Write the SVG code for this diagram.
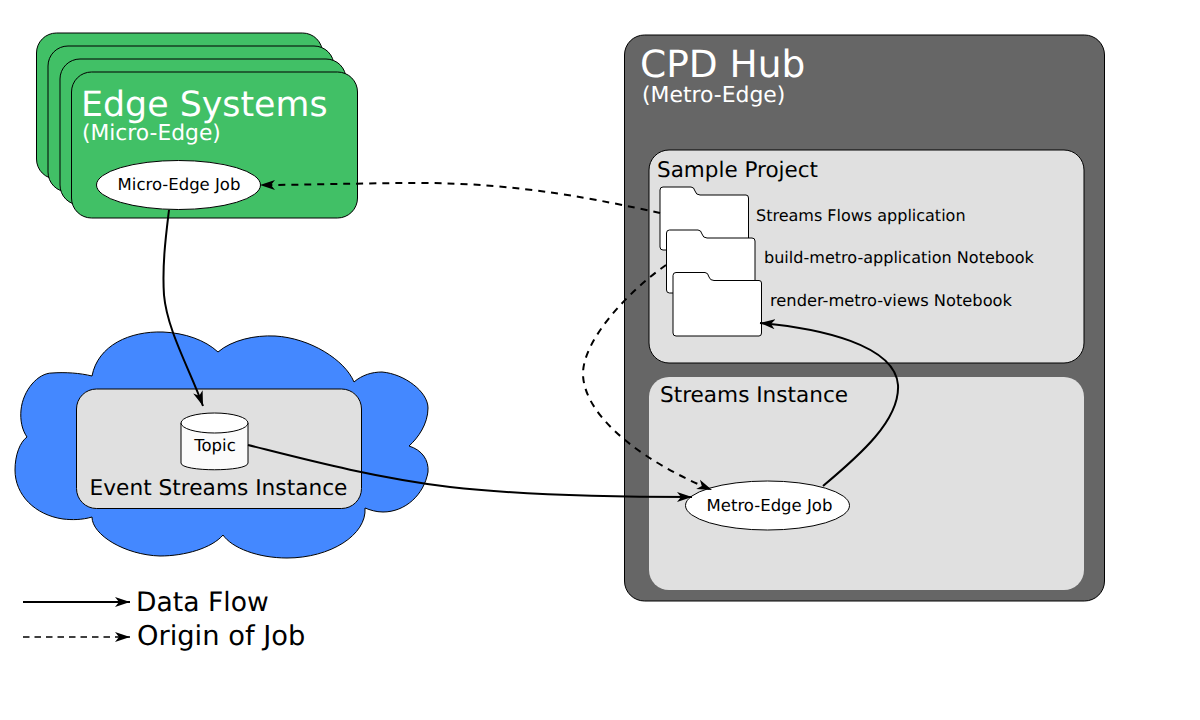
<svg xmlns="http://www.w3.org/2000/svg" width="1200" height="720" viewBox="0 0 1200 720">
<style>
text{font-family:"DejaVu Sans",sans-serif;fill:#000;text-rendering:geometricPrecision}
.g{fill:#41c066;stroke:#000;stroke-width:1}
.p{fill:#e0e0e0;stroke:#000;stroke-width:1}
.w{fill:#fff;stroke:#000;stroke-width:1}
.c{fill:none;stroke:#000;stroke-width:2}
.d{stroke-dasharray:7 6}
.t{fill:#fff}
</style>
<defs>
<marker id="a" markerUnits="userSpaceOnUse" markerWidth="18" markerHeight="14" refX="15" refY="7" orient="auto"><path d="M0,2 L15,7 L0,12 L4,7 Z" fill="#000"/></marker>
</defs>
<rect width="1200" height="720" fill="#fff"/>
<g id="edge-systems">
<rect class="g" x="36.500" y="33" width="286" height="146" rx="20"/>
<rect class="g" x="48" y="46" width="286" height="146" rx="20"/>
<rect class="g" x="60" y="59" width="286" height="146" rx="20"/>
<rect class="g" x="71.500" y="72" width="286" height="146" rx="20"/>
<text class="t" x="81" y="116" font-size="34.800">Edge Systems</text>
<text class="t" x="82" y="140" font-size="21.800">(Micro-Edge)</text>
</g>
<g id="micro-edge-job">
<ellipse class="w" cx="178.500" cy="185" rx="82" ry="24.500"/>
<text x="179" y="190" font-size="16.500" text-anchor="middle">Micro-Edge Job</text>
</g>
<g id="cloud">
<path fill="#4488ff" stroke="#000" stroke-width="1" d="M92,376 C98,345 130,331 163,332 C185,333 205,340 218,352 C232,340 255,335 275,336 C310,338 345,360 354,382 C362,375 372,372 382,372 C405,374 428,392 428,408 C428,424 418,438 409,446 C422,450 429,460 428,472 C424,495 405,512 383,512 C376,512 370,510 365,508 C367,535 330,558 287,558 C258,558 232,548 223,535 C212,548 185,556 160,556 C125,555 92,535 92,517 C82,520 72,520 63,519 C35,515 15,495 15,470 C15,455 20,442 27,437 C22,430 20,420 21,410 C23,390 38,373 52,373 C65,372 80,373 92,376 Z"/>
</g>
<g id="event-streams">
<rect class="p" x="76.500" y="389" width="285" height="119.500" rx="20"/>
<text x="218.500" y="495" font-size="21.700" text-anchor="middle">Event Streams Instance</text>
</g>
<g id="topic">
<path d="M181,423 V463 C181,472 248,472 248,463 V423 Z" fill="#fbfbfb" stroke="#000"/>
<ellipse class="w" cx="214.500" cy="423" rx="33.500" ry="10"/>
<text x="215" y="451" font-size="16.500" text-anchor="middle">Topic</text>
</g>
<g id="cpd-hub">
<rect x="624.500" y="35" width="480" height="566" rx="20" fill="#666" stroke="#000"/>
<text class="t" x="640" y="77" font-size="37.500">CPD Hub</text>
<text class="t" x="642" y="102" font-size="21.900">(Metro-Edge)</text>
</g>
<g id="sample-project">
<rect class="p" x="649" y="150" width="435" height="213" rx="20"/>
<text x="657" y="177" font-size="21.500">Sample Project</text>
</g>
<g id="streams-flows">
<path class="w" d="M663,187 H691 Q694,187 695,191 Q696,195 700,195 H746 Q748.500,195 748.500,198 V247 Q748.500,250 746,250 H663 Q660,250 660,247 V190 Q660,187 663,187 Z"/>
<text x="756" y="221" font-size="16">Streams Flows application</text>
</g>
<g id="build-notebook">
<path class="w" stroke="#666" d="M669.500,230 H698 Q701,230 702,234 Q703,238 707,238 H752 Q755,238 755,241 V290 Q755,293 752,293 H669.500 Q666.500,293 666.500,290 V233 Q666.500,230 669.500,230 Z"/>
<text x="764" y="263" font-size="16.060">build-metro-application Notebook</text>
</g>
<g id="render-notebook">
<path class="w" d="M676,272.500 H705 Q708,272.500 709,277 Q710,280.500 714,280.500 H759 Q761.500,280.500 761.500,283 V333 Q761.500,336 759,336 H676 Q673,336 673,333 V275.500 Q673,272.500 676,272.500 Z"/>
<text x="770" y="306" font-size="16.270">render-metro-views Notebook</text>
</g>
<g id="streams-instance">
<rect x="649" y="377" width="435" height="213" rx="20" fill="#e0e0e0"/>
<text x="660" y="402" font-size="21.600">Streams Instance</text>
</g>
<g id="metro-edge-job">
<ellipse class="w" cx="767.500" cy="505.500" rx="82" ry="24.500"/>
<text x="769.500" y="511" font-size="16.500" text-anchor="middle">Metro-Edge Job</text>
</g>
<g id="connectors">
<path class="c" marker-end="url(#a)" d="M169,210 C166,235 162,265 164,295 C167,330 190,370 203,406"/>
<path class="c" marker-end="url(#a)" d="M248,445 C300,458 370,477 450,487 C520,495 620,497 692,497"/>
<path class="c" marker-end="url(#a)" d="M823,486 C860,455 900,420 898,385 C895,345 820,328 760,323"/>
<path class="c d" marker-end="url(#a)" d="M660,213 C600,200 520,183 420,183 C360,183 310,185 260,185"/>
<path class="c d" marker-end="url(#a)" d="M666,265 C630,290 582,340 583,375 C585,420 650,465 712,490"/>
<path class="c" marker-end="url(#a)" d="M23,602 H130"/>
<path class="c" style="stroke-dasharray:6.500 5;stroke-width:1.700" marker-end="url(#a)" d="M23,637 H130"/>
</g>
<g id="legend">
<text x="136" y="611" font-size="26.600">Data Flow</text>
<text x="137" y="645" font-size="27.300">Origin of Job</text>
</g>
</svg>
